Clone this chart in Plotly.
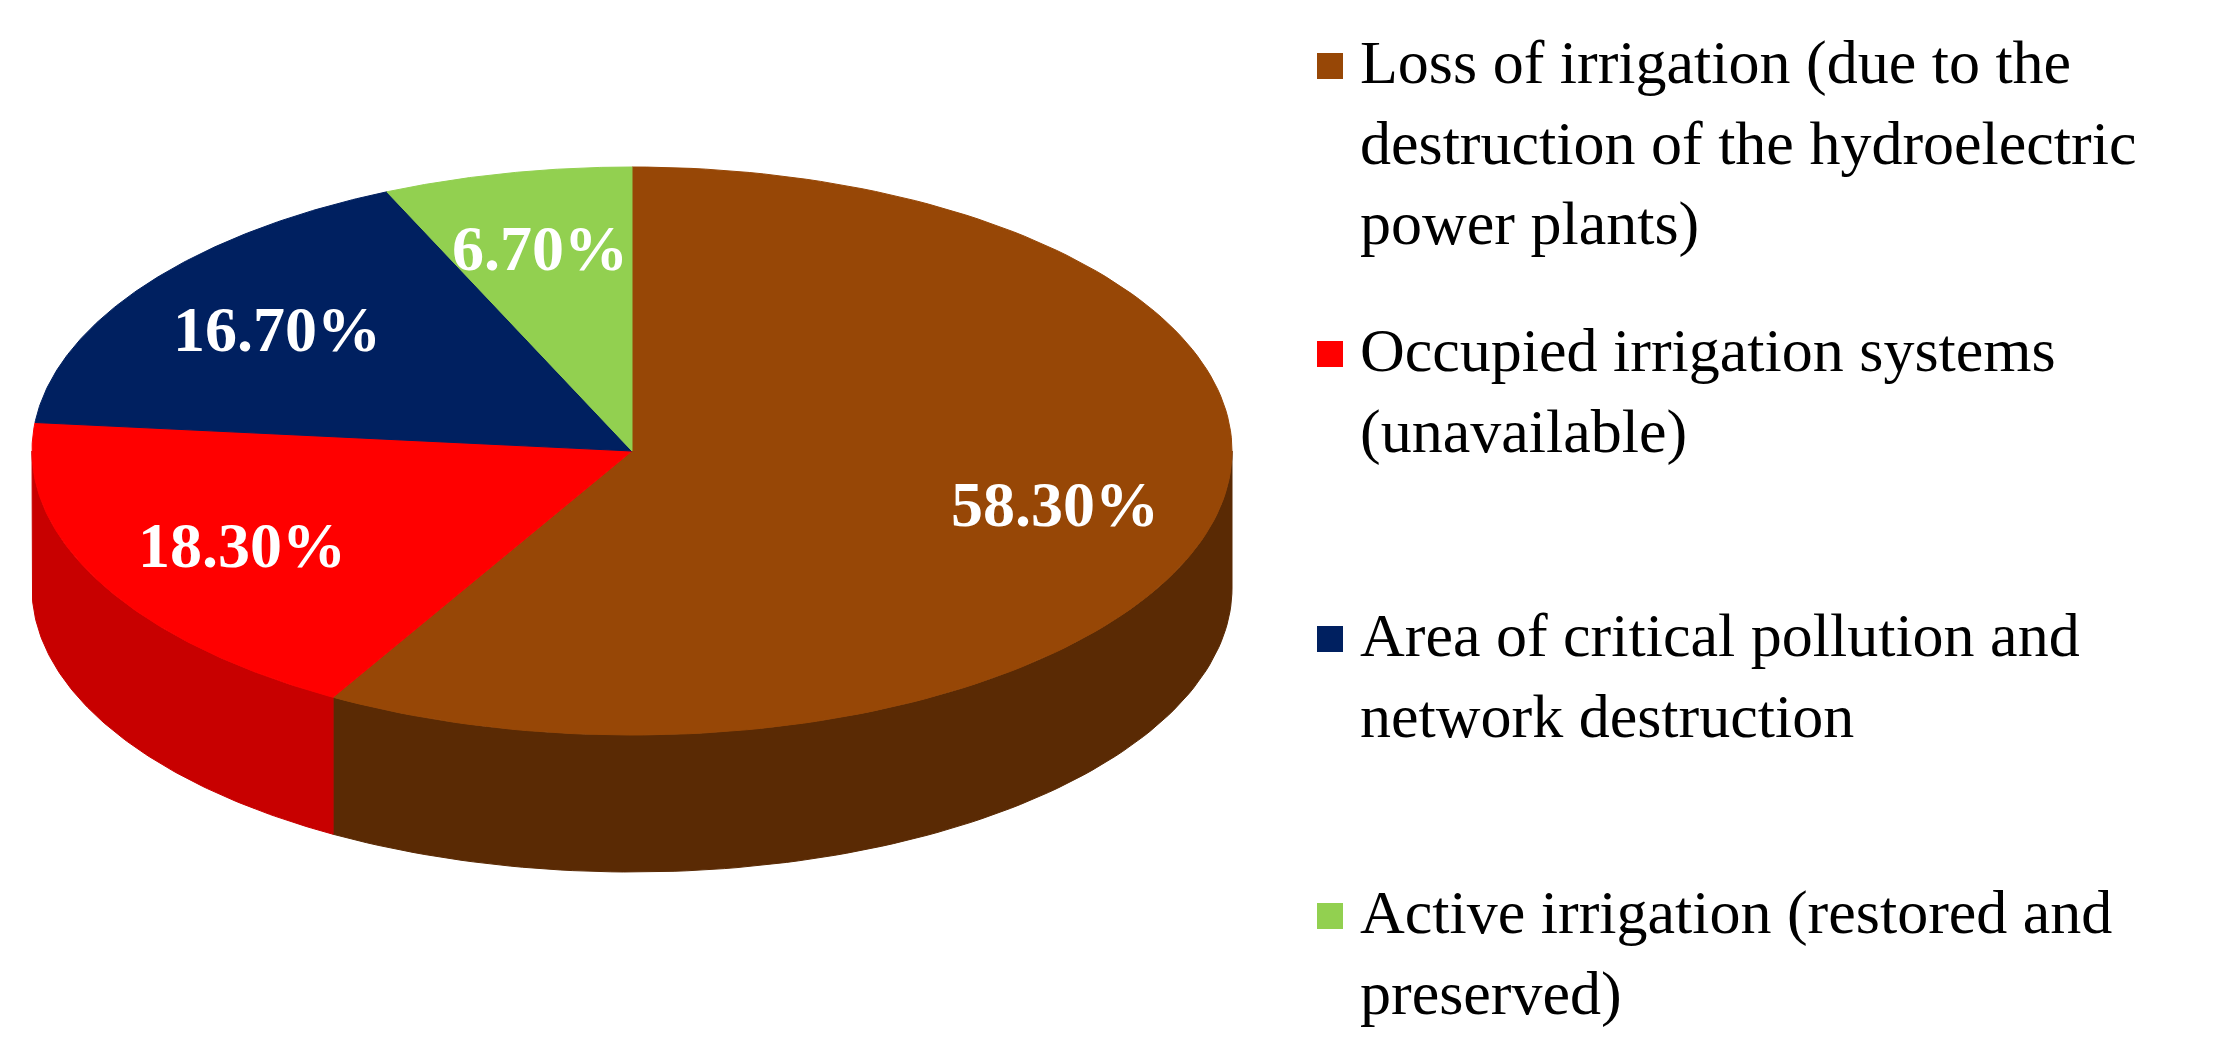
import numpy as np
import plotly.graph_objects as go

labels = ["Loss of irrigation (due to the<br>destruction of the hydroelectric<br>power plants)",
          "Occupied irrigation systems<br>(unavailable)",
          "Area of critical pollution and<br>network destruction",
          "Active irrigation (restored and<br>preserved)"]
values = [58.3, 18.3, 16.7, 6.7]
value_text = ["58.30%", "18.30%", "16.70%", "6.70%"]
colors = ["#974706", "#FF0000", "#002060", "#92D050"]
wall_colors = ["#5a2a04", "#c80000", "#001540", "#5f9a2c"]
legend_y = [18, 306, 591, 868]

cx, cy, rx, ry, depth = 624, 443, 600, 284, 137
LINE = 80

def pt(theta_deg, dy=0):
    t = np.radians(theta_deg)
    return cx + rx * np.sin(t), cy - ry * np.cos(t) + dy

fig = go.Figure()
total = sum(values)
starts = np.cumsum([0] + values[:-1]) / total * 360
ends = np.cumsum(values) / total * 360

for s, e, wc in zip(starts, ends, wall_colors):
    a, b = max(s, 90), min(e, 270)
    if b <= a:
        continue
    th = np.linspace(a, b, 100)
    xt, yt = pt(th)
    xb, yb = pt(th[::-1], depth)
    fig.add_trace(go.Scatter(x=np.r_[xt, xb, xt[0]], y=np.r_[yt, yb, yt[0]], fill="toself",
                             fillcolor=wc, line=dict(color=wc, width=1), mode="lines",
                             hoverinfo="skip", showlegend=False))

for s, e, c in zip(starts, ends, colors):
    th = np.linspace(s, e, 150)
    xa, ya = pt(th)
    fig.add_trace(go.Scatter(x=np.r_[cx, xa, cx], y=np.r_[cy, ya, cy], fill="toself",
                             fillcolor=c, line=dict(color=c, width=1), mode="lines",
                             hoverinfo="skip", showlegend=False))

for s, e, t in zip(starts, ends, value_text):
    m = np.radians((s + e) / 2)
    x = cx + 0.73 * rx * np.sin(m)
    y = cy - 0.73 * ry * np.cos(m)
    fig.add_annotation(x=x, y=y, text=f"<b>{t}</b>", showarrow=False,
                       font=dict(family="Liberation Serif", size=64, color="white"))

for lab, c, ly in zip(labels, colors, legend_y):
    fig.add_trace(go.Scatter(x=[1322], y=[ly + LINE / 2], mode="markers",
                             marker=dict(symbol="square", size=26, color=c),
                             hoverinfo="skip", showlegend=False))
    fig.add_annotation(x=1350, y=ly, text=lab, showarrow=False, xanchor="left", yanchor="top",
                       align="left", font=dict(family="Liberation Serif", size=62, color="black"))

fig.update_layout(width=2225, height=1059, margin=dict(l=0, r=0, t=0, b=0),
                  plot_bgcolor="white", paper_bgcolor="white",
                  xaxis=dict(range=[0, 2225], visible=False),
                  yaxis=dict(range=[1059, 0], visible=False))
fig.write_html("out.html")
